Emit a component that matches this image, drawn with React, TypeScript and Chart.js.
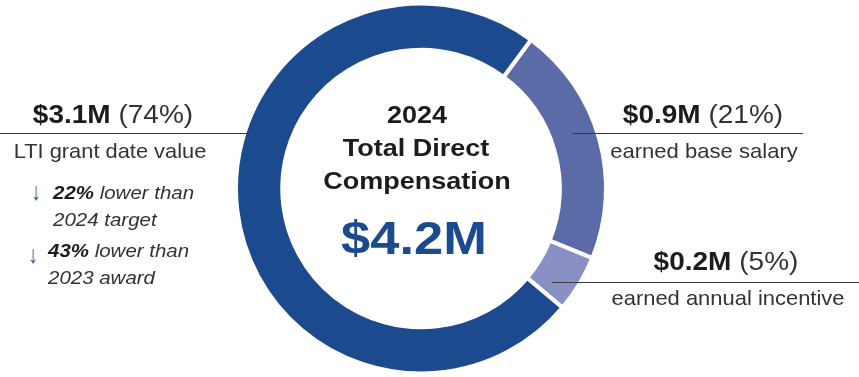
import React, { useEffect, useRef } from "react";
import { Chart, registerables } from "chart.js";

Chart.register(...registerables);

// ---- data ----
const categories = ["earned base salary", "earned annual incentive", "LTI grant date value"];
const sharePct = [21, 5, 74];
const amounts = ["$0.9M", "$0.2M", "$3.1M"];
const segmentColors = ["#5B6BA8", "#8A90C3", "#1B4A8F"];
const titleYear = "2024";
const titleLines = ["Total Direct", "Compensation"];
const totalLabel = "$4.2M";
const ltiNotes = [
  { pct: "22%", text: " lower than", sub: "2024 target" },
  { pct: "43%", text: " lower than", sub: "2023 award" },
];

const FONT = "'Liberation Sans', Arial, Helvetica, sans-serif";
const DARK = "#1c1c1c";
const LIGHT = "#333333";
const BLUE = "#1B4A8F";

type LblProps = {
  x: number;
  baseline: number;
  fs: number;
  scale?: number;
  align?: "center" | "left";
  children: React.ReactNode;
  style?: React.CSSProperties;
};

function Lbl({ x, baseline, fs, scale = 1, align = "center", children, style }: LblProps) {
  const top = baseline - 0.8465 * fs;
  const base: React.CSSProperties = {
    position: "absolute",
    top,
    fontFamily: FONT,
    fontSize: fs,
    lineHeight: `${fs}px`,
    whiteSpace: "nowrap",
    color: LIGHT,
    transform: `scaleX(${scale})`,
  };
  if (align === "center") {
    return (
      <div style={{ ...base, left: x - 300, width: 600, textAlign: "center", transformOrigin: "50% 50%", ...style }}>
        {children}
      </div>
    );
  }
  return (
    <div style={{ ...base, left: x, transformOrigin: "0% 50%", ...style }}>{children}</div>
  );
}

function HLine({ x1, x2, y }: { x1: number; x2: number; y: number }) {
  return (
    <div
      style={{ position: "absolute", left: x1, top: y, width: x2 - x1, height: 1, background: "#3a3a3a" }}
    />
  );
}

export default function App() {
  const ref = useRef<HTMLCanvasElement | null>(null);

  useEffect(() => {
    if (!ref.current) return;
    const chart = new Chart(ref.current, {
      type: "doughnut",
      data: {
        labels: categories,
        datasets: [
          {
            data: sharePct,
            backgroundColor: segmentColors,
            borderColor: "#ffffff",
            borderWidth: 4,
            hoverOffset: 0,
          },
        ],
      },
      options: {
        responsive: false,
        animation: false,
        devicePixelRatio: 1,
        rotation: 36.5,
        cutout: "75%",
        layout: { padding: { left: 0, right: 17, top: 1.5, bottom: 1.5 } },
        plugins: {
          legend: { display: false },
          tooltip: { enabled: false },
        },
      },
    });
    return () => chart.destroy();
  }, []);

  const boldSpan = (t: string) => (
    <span style={{ fontWeight: 700, color: DARK }}>{t}</span>
  );

  return (
    <div style={{ position: "absolute", left: 0, top: 0, width: 859, height: 377, background: "#fff", overflow: "hidden" }}>
      <canvas ref={ref} width={859} height={377} style={{ display: "block", width: 859, height: 377 }} />

      {/* center title */}
      <Lbl x={416.5} baseline={124} fs={23.5} scale={1.15} style={{ fontWeight: 700, color: DARK }}>{titleYear}</Lbl>
      <Lbl x={415.5} baseline={157} fs={23.5} scale={1.15} style={{ fontWeight: 700, color: DARK }}>{titleLines[0]}</Lbl>
      <Lbl x={417} baseline={190} fs={23.5} scale={1.15} style={{ fontWeight: 700, color: DARK }}>{titleLines[1]}</Lbl>
      <Lbl x={413.5} baseline={254} fs={46} scale={1.14} style={{ fontWeight: 700, color: BLUE }}>{totalLabel}</Lbl>

      {/* LTI (left) */}
      <Lbl x={113} baseline={123} fs={25} scale={1.12}>
        {boldSpan(amounts[2])} ({sharePct[2]}%)
      </Lbl>
      <HLine x1={0} x2={250} y={133} />
      <Lbl x={110} baseline={158} fs={21} scale={1.04}>{categories[2]}</Lbl>

      <Lbl x={31} baseline={200} fs={25} scale={0.8} align="left" style={{ color: "#2f5a99" }}>↓</Lbl>
      <Lbl x={53} baseline={200} fs={17.5} scale={1.17} align="left" style={{ fontStyle: "italic" }}>
        {boldSpan(ltiNotes[0].pct)}{ltiNotes[0].text}
      </Lbl>
      <Lbl x={53} baseline={227} fs={17.5} scale={1.17} align="left" style={{ fontStyle: "italic" }}>
        {ltiNotes[0].sub}
      </Lbl>
      <Lbl x={28} baseline={263} fs={25} scale={0.8} align="left" style={{ color: "#2f5a99" }}>↓</Lbl>
      <Lbl x={48} baseline={258} fs={17.5} scale={1.17} align="left" style={{ fontStyle: "italic" }}>
        {boldSpan(ltiNotes[1].pct)}{ltiNotes[1].text}
      </Lbl>
      <Lbl x={48} baseline={285} fs={17.5} scale={1.17} align="left" style={{ fontStyle: "italic" }}>
        {ltiNotes[1].sub}
      </Lbl>

      {/* base salary (right top) */}
      <Lbl x={703} baseline={123} fs={25} scale={1.12}>
        {boldSpan(amounts[0])} ({sharePct[0]}%)
      </Lbl>
      <HLine x1={572} x2={803} y={133} />
      <Lbl x={704} baseline={158} fs={21} scale={1.05}>{categories[0]}</Lbl>

      {/* annual incentive (right bottom) */}
      <Lbl x={726} baseline={270} fs={25} scale={1.12}>
        {boldSpan(amounts[1])} ({sharePct[1]}%)
      </Lbl>
      <HLine x1={552} x2={859} y={282} />
      <Lbl x={728} baseline={305} fs={21} scale={1.045}>{categories[1]}</Lbl>
    </div>
  );
}
